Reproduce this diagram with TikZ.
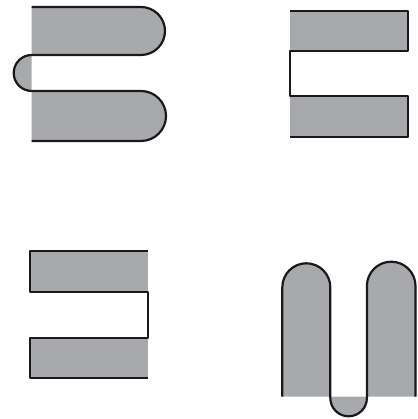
\documentclass[tikz,border=0pt]{standalone}
\definecolor{bandgray}{RGB}{167,169,172}
\begin{document}
\begin{tikzpicture}[x=1pt,y=1pt,
  outline/.style={line width=2.2pt,line join=round,draw=black!90},
  bandfill/.style={fill=bandgray}]
\useasboundingbox (0,0) rectangle (417,419);
% top-left figure
\path[bandfill] (31.7,412) -- (141,412) arc[start angle=90,end angle=-90,radius=24] -- (31.7,364) arc[start angle=90,end angle=270,radius=18] -- (141,328) arc[start angle=90,end angle=-90,radius=25] -- (31.7,278) -- cycle;
\draw[outline] (31.7,412) -- (141,412) arc[start angle=90,end angle=-90,radius=24] -- (31.7,364) arc[start angle=90,end angle=270,radius=18] -- (141,328) arc[start angle=90,end angle=-90,radius=25] -- (31.7,278);
% top-right figure
\path[bandfill] (290,408) rectangle (408.3,368);
\path[bandfill] (290,322.7) rectangle (408.3,282);
\draw[outline] (290,408) -- (408.3,408) -- (408.3,368) -- (290,368) -- (290,322.7) -- (408.3,322.7) -- (408.3,282) -- (290,282);
% bottom-left figure
\path[bandfill] (30,168) rectangle (148.3,126.7);
\path[bandfill] (30,81.3) rectangle (148.3,41.3);
\draw[outline] (148.3,168) -- (30,168) -- (30,126.7) -- (148.3,126.7) -- (148.3,81.3) -- (30,81.3) -- (30,41.3) -- (148.3,41.3);
% bottom-right figure
\path[bandfill] (282.3,22.3) -- (282.3,131.7) arc[start angle=180,end angle=0,radius=24] -- (330.3,21) arc[start angle=180,end angle=360,radius=18.3] -- (366.9,133) arc[start angle=180,end angle=0,radius=24.3] -- (415.5,22.3) -- cycle;
\draw[outline] (282.3,22.3) -- (282.3,131.7) arc[start angle=180,end angle=0,radius=24] -- (330.3,21) arc[start angle=180,end angle=360,radius=18.3] -- (366.9,133) arc[start angle=180,end angle=0,radius=24.3] -- (415.5,22.3);
\end{tikzpicture}
\end{document}
